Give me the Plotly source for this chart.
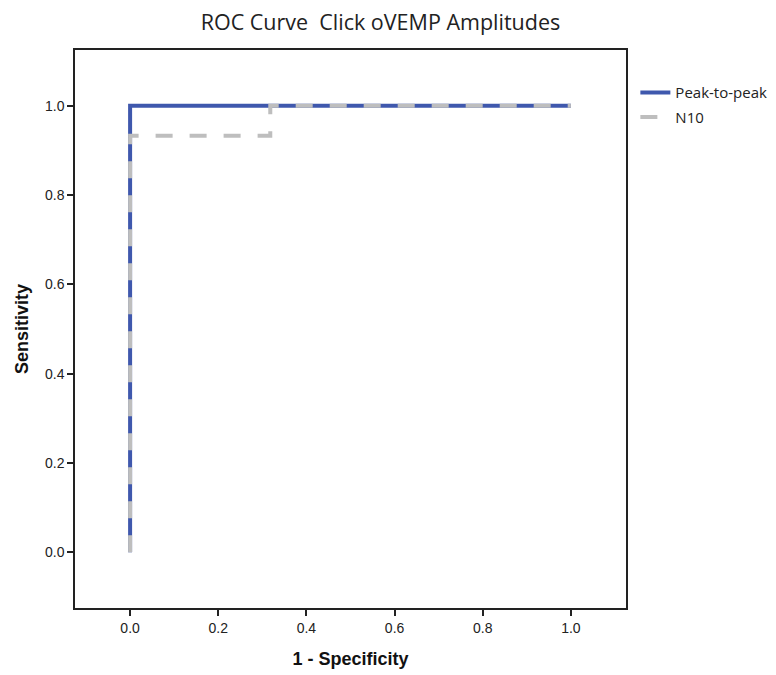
import plotly.graph_objects as go

# ROC curve points (1 - specificity, sensitivity)
p2p_fpr = [0.0, 0.0, 1.0]
p2p_tpr = [0.0, 1.0, 1.0]

n10_fpr = [0.0, 0.0, 0.318, 0.318, 1.0]
n10_tpr = [0.0, 0.933, 0.933, 1.0, 1.0]

tick_vals = [0.0, 0.2, 0.4, 0.6, 0.8, 1.0]
tick_text = ["0.0", "0.2", "0.4", "0.6", "0.8", "1.0"]

fig = go.Figure()
fig.add_trace(go.Scatter(x=p2p_fpr, y=p2p_tpr, mode="lines", name="Peak-to-peak",
                         legendgroup="a", line=dict(color="#3F58AD", width=4)))
fig.add_trace(go.Scatter(x=n10_fpr, y=n10_tpr, mode="lines", name="N10",
                         legendgroup="b", line=dict(color="#BEBEBE", width=4, dash="17px,17px")))

axis_common = dict(range=[-0.125, 1.125], tickvals=tick_vals, ticktext=tick_text,
                   showgrid=False, zeroline=False, showline=True, linecolor="#222",
                   linewidth=1.5, mirror=True, ticks="outside", ticklen=6,
                   tickcolor="#222", tickwidth=1.5,
                   tickfont=dict(family="Liberation Sans, Arial", size=14, color="#222"))

fig.update_xaxes(title=dict(text="<b>1 - Specificity</b>", standoff=18,
                            font=dict(family="Liberation Sans, Arial", size=18, color="#111")),
                 **axis_common)
fig.update_yaxes(title=dict(text="<b>Sensitivity</b>", standoff=12,
                            font=dict(family="Liberation Sans, Arial", size=18, color="#111")),
                 **axis_common)

# page body adds a small offset, so margins are shifted left/up
fig.update_layout(
    width=776, height=675,
    margin=dict(l=61, r=157, t=42, b=75),
    paper_bgcolor="white", plot_bgcolor="white",
    title=dict(text="ROC Curve  Click oVEMP Amplitudes", x=0.48, xanchor="center",
               y=0.978, yanchor="middle",
               font=dict(family="Open Sans, Lato", size=21.5, color="#222")),
    legend=dict(x=1.017, y=0.953, xanchor="left", yanchor="top", bgcolor="rgba(0,0,0,0)",
                font=dict(family="Open Sans, Lato", size=15, color="#222"),
                itemwidth=30, tracegroupgap=2),
    showlegend=True,
)

fig.write_html("out.html")
